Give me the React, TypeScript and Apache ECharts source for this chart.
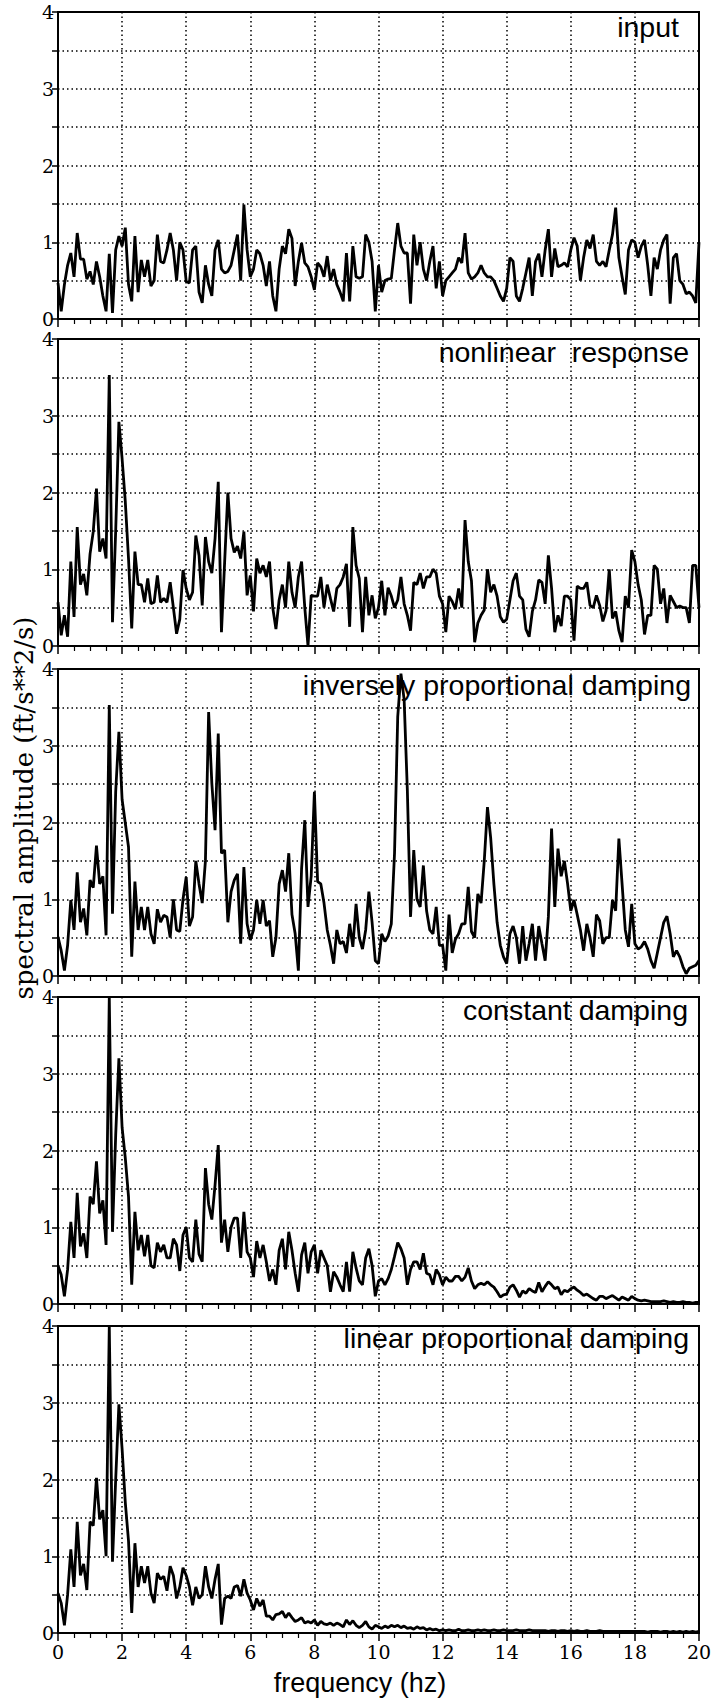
import React, { useEffect, useRef } from "react";
import * as echarts from "echarts";

// frequency sampling step (Hz) and x-axis range
const FREQ_STEP = 0.1;
const X_MIN = 0;
const X_MAX = 20;
const Y_MAX = 4;

const PANEL_LABELS = [
  "input",
  "nonlinear  response",
  "inversely proportional damping",
  "constant damping",
  "linear proportional damping",
];

const X_TITLE = "frequency (hz)";
const Y_TITLE = "spectral amplitude (ft/s**2/s)";

// spectral amplitudes, 0.0 .. 20.0 Hz every 0.1 Hz
const inputAmp = [
  0.47, 0.1, 0.45, 0.7, 0.86, 0.55, 1.12, 0.78, 0.78, 0.52,
  0.62, 0.45, 0.75, 0.55, 0.3, 0.1, 0.85, 0.08, 0.9, 1.08,
  0.95, 1.19, 0.45, 0.23, 1.08, 0.35, 0.77, 0.55, 0.77, 0.43,
  0.5, 1.1, 0.75, 0.73, 0.9, 1.12, 0.9, 0.5, 1.0, 0.9,
  0.49, 0.47, 0.9, 0.95, 0.35, 0.21, 0.7, 0.45, 0.3, 0.9,
  1.03, 0.65, 0.6, 0.62, 0.7, 0.9, 1.1, 0.5, 1.49, 0.9,
  0.55, 0.65, 0.9, 0.85, 0.7, 0.43, 0.75, 0.3, 0.1, 0.65,
  0.95, 0.85, 1.17, 1.05, 0.43, 0.75, 0.99, 0.73, 0.68, 0.55,
  0.38, 0.73, 0.68, 0.55, 0.82, 0.5, 0.65, 0.45, 0.35, 0.23,
  0.86, 0.23, 0.95, 0.55, 0.53, 0.55, 1.1, 1.0, 0.75, 0.1,
  0.7,
  0.35, 0.5, 0.52, 0.53, 0.9, 1.25, 0.95, 0.86, 0.86, 0.2,
  1.1, 0.7, 1.0, 0.65, 0.5, 0.75, 0.95, 0.4, 0.75, 0.3,
  0.5, 0.55, 0.6, 0.65, 0.8, 0.73, 1.12, 0.6, 0.52, 0.55,
  0.6, 0.7, 0.6, 0.55, 0.55, 0.5, 0.4, 0.3, 0.23, 0.4,
  0.8, 0.75, 0.3, 0.23, 0.4, 0.6, 0.8, 0.3, 0.75, 0.85,
  0.55, 0.9, 1.17, 0.55, 0.92, 0.68, 0.7, 0.73, 0.68, 0.9,
  1.06, 0.95, 0.5, 0.8, 1.03, 0.92, 1.1, 0.75, 0.7, 0.75,
  0.68, 0.9, 1.1, 1.45, 0.8, 0.55, 0.32, 0.9, 1.03, 1.0,
  0.8, 0.95, 1.03, 0.7, 0.3, 0.8, 0.65, 0.9, 1.03, 1.1,
  0.2, 0.8, 0.85, 0.5, 0.45, 0.33, 0.35, 0.3, 0.21, 1.0,
];

const nonlinearAmp = [
  0.57, 0.14, 0.4, 0.12, 1.1, 0.38, 1.55, 0.8, 0.94, 0.66,
  1.2, 1.49, 2.05, 1.23, 1.4, 1.14, 3.53, 0.31, 1.5, 2.92,
  2.44, 1.88, 1.14, 0.23, 1.23, 0.8, 0.8, 0.57, 0.88, 0.55,
  0.57, 0.92, 0.57, 0.62, 0.57, 0.83, 0.5, 0.16, 0.35, 0.99,
  0.75, 0.6, 0.7, 1.44, 1.18, 0.53, 1.42, 1.1, 0.95, 1.4,
  2.14, 0.18, 1.1, 2.0, 1.4, 1.22, 1.3, 1.14, 1.49, 0.66,
  0.92, 0.45, 1.14, 0.95, 1.05, 0.9, 1.1, 0.5, 0.22, 0.6,
  0.8, 0.5, 1.1, 0.7, 0.5, 0.9, 1.1, 0.5, 0.0, 0.66,
  0.65, 0.65, 0.9, 0.5, 0.8, 0.62, 0.45, 0.75, 0.8, 0.9,
  1.07, 0.25, 1.55, 1.05, 0.88, 0.18, 0.9, 0.4, 0.66, 0.36,
  0.5,
  0.85, 0.4, 0.76, 0.65, 0.5, 0.6, 0.9, 0.55, 0.4, 0.2,
  0.83, 0.8, 0.95, 0.75, 0.9, 0.9, 1.0, 0.95, 0.65, 0.55,
  0.18, 0.65, 0.58, 0.48, 0.75, 0.5, 1.64, 1.1, 0.85, 0.05,
  0.3, 0.4, 0.47, 1.0, 0.7, 0.8, 0.65, 0.38, 0.31, 0.35,
  0.6, 0.85, 0.95, 0.65, 0.6, 0.22, 0.12, 0.45, 0.6, 0.86,
  0.83, 0.55, 1.18, 0.75, 0.18, 0.4, 0.26, 0.65, 0.65, 0.6,
  0.07, 0.78, 0.75, 0.75, 0.83, 0.53, 0.5, 0.66, 0.53, 0.32,
  0.46, 1.0, 0.36, 0.45, 0.2, 0.05, 0.65, 0.5, 1.25, 1.1,
  0.8, 0.6, 0.15, 0.4, 0.4, 1.05, 1.0, 0.55, 0.75, 0.3,
  0.66, 0.58, 0.5, 0.52, 0.5, 0.5, 0.3, 1.05, 1.05, 0.5,
];

const inverseAmp = [
  0.51, 0.33, 0.07, 0.4, 0.99, 0.6, 1.35, 0.7, 0.88, 0.53,
  1.25, 1.15, 1.7, 1.2, 1.3, 0.53, 3.53, 0.81, 2.4, 3.18,
  2.3, 1.99, 1.68, 0.25, 1.23, 0.6, 0.9, 0.6, 0.9, 0.55,
  0.42, 0.87, 0.7, 0.79, 0.77, 0.5, 1.0, 0.6, 0.58, 1.0,
  1.29, 0.65, 0.77, 1.5, 1.2, 0.95, 1.5, 3.44, 2.51, 1.9,
  3.16, 1.6, 1.64, 0.7, 1.1, 1.25, 1.33, 0.42, 1.42, 0.68,
  0.47, 0.6, 0.99, 0.68, 0.99, 0.65, 0.72, 0.25, 0.5, 1.2,
  1.38, 1.1, 1.6, 0.8, 0.55, 0.07, 1.4, 2.03, 0.9, 1.3,
  2.4, 1.23, 1.2, 0.95, 0.6, 0.4, 0.16, 0.6, 0.42, 0.45,
  0.3, 0.68, 0.38, 0.94, 0.5, 0.35, 0.6, 1.1, 0.7, 0.2,
  0.16,
  0.55, 0.45, 0.52, 0.68, 1.6, 3.38, 3.94, 3.6, 2.42, 0.77,
  1.64, 1.0, 0.9, 1.44, 0.85, 0.6, 0.55, 0.9, 0.4, 0.4,
  0.07, 0.8, 0.3, 0.48, 0.55, 0.68, 0.68, 1.16, 0.58, 0.5,
  1.07, 0.95, 1.5, 2.2, 1.8, 1.2, 0.7, 0.4, 0.25, 0.16,
  0.55, 0.65, 0.5, 0.16, 0.65, 0.2, 0.42, 0.68, 0.2, 0.65,
  0.42, 0.2, 0.77, 1.92, 0.9, 1.66, 1.3, 1.5, 1.2, 0.85,
  0.99, 0.8, 0.6, 0.33, 0.68, 0.5, 0.25, 0.8, 0.72, 0.42,
  0.5, 0.5, 0.99, 0.85, 1.79, 1.2, 0.6, 0.38, 0.94, 0.42,
  0.35, 0.38, 0.45, 0.35, 0.2, 0.1, 0.3, 0.5, 0.7, 0.78,
  0.55, 0.25, 0.33, 0.25, 0.12, 0.03, 0.1, 0.12, 0.14, 0.2,
];

const constantAmp = [
  0.5, 0.38, 0.1, 0.45, 1.07, 0.6, 1.45, 0.75, 0.92, 0.6,
  1.4, 1.3, 1.86, 1.18, 1.35, 0.77, 4.0, 0.94, 2.2, 3.2,
  2.3, 1.9, 1.4, 0.25, 1.2, 0.7, 0.9, 0.62, 0.9, 0.5,
  0.47, 0.8, 0.68, 0.77, 0.6, 0.6, 0.85, 0.77, 0.43, 0.9,
  1.0, 0.6, 0.55, 1.1, 0.65, 0.55, 1.77, 1.3, 1.1, 1.55,
  2.07, 0.8, 1.1, 0.68, 1.0, 1.12, 1.12, 0.6, 1.2, 0.68,
  0.6, 0.35, 0.82, 0.6, 0.77, 0.55, 0.3, 0.45, 0.25, 0.7,
  0.85, 0.45, 0.94, 0.7, 0.4, 0.16, 0.64, 0.8, 0.4, 0.68,
  0.77, 0.4, 0.7, 0.6, 0.5, 0.16, 0.42, 0.35, 0.25, 0.16,
  0.55, 0.16, 0.68, 0.47, 0.3, 0.25, 0.6, 0.72, 0.5, 0.1,
  0.3,
  0.33, 0.25, 0.33, 0.45, 0.62, 0.8, 0.72, 0.6, 0.25, 0.45,
  0.55, 0.55, 0.45, 0.66, 0.4, 0.38, 0.25, 0.45, 0.38, 0.25,
  0.35, 0.3, 0.3, 0.36, 0.36, 0.3, 0.35, 0.47, 0.3, 0.2,
  0.25, 0.27, 0.25, 0.29, 0.25, 0.22, 0.16, 0.09, 0.12, 0.13,
  0.22, 0.25, 0.18, 0.09, 0.17, 0.14, 0.2, 0.17, 0.15, 0.28,
  0.16, 0.23, 0.29, 0.25, 0.2, 0.22, 0.12, 0.18, 0.16, 0.2,
  0.22, 0.18, 0.15, 0.11, 0.13, 0.1, 0.07, 0.05, 0.1, 0.1,
  0.07, 0.09, 0.11, 0.08, 0.05, 0.09, 0.07, 0.05, 0.1, 0.07,
  0.05, 0.04, 0.05, 0.04, 0.03, 0.03, 0.03, 0.03, 0.04, 0.03,
  0.02, 0.03, 0.02, 0.02, 0.03, 0.02, 0.02, 0.01, 0.02, 0.02,
];

const linearAmp = [
  0.52, 0.39, 0.1, 0.5, 1.09, 0.6, 1.45, 0.75, 0.9, 0.56,
  1.45, 1.4, 2.02, 1.48, 1.6, 1.0, 4.0, 0.93, 2.0, 2.98,
  2.4, 1.7, 1.2, 0.26, 1.17, 0.6, 0.87, 0.65, 0.87, 0.52,
  0.39, 0.78, 0.7, 0.74, 0.55, 0.87, 0.75, 0.45, 0.6, 0.85,
  0.75, 0.6, 0.36, 0.6, 0.45, 0.5, 0.87, 0.6, 0.45, 0.7,
  0.9, 0.11, 0.45, 0.48, 0.45, 0.6, 0.62, 0.48, 0.7, 0.52,
  0.43, 0.3, 0.45, 0.35, 0.43, 0.22, 0.22, 0.17, 0.24, 0.25,
  0.28, 0.2, 0.26, 0.2, 0.15, 0.17, 0.2, 0.13, 0.15, 0.13,
  0.17, 0.1, 0.15, 0.12, 0.11, 0.13, 0.1, 0.13, 0.11, 0.08,
  0.17, 0.11, 0.16, 0.1, 0.07, 0.1, 0.15, 0.08, 0.05, 0.1,
  0.08,
  0.06, 0.09, 0.07, 0.1, 0.08, 0.1, 0.07, 0.09, 0.06, 0.07,
  0.05, 0.08, 0.06, 0.07, 0.04, 0.06, 0.04, 0.05, 0.03, 0.04,
  0.03, 0.04, 0.03, 0.03, 0.05, 0.03, 0.03, 0.04, 0.03, 0.03,
  0.04, 0.03, 0.04, 0.03, 0.03, 0.04, 0.03, 0.03, 0.04, 0.03,
  0.03, 0.03, 0.04, 0.03, 0.03, 0.03, 0.04, 0.03, 0.03, 0.03,
  0.03, 0.03, 0.02, 0.03, 0.03, 0.02, 0.03, 0.03, 0.02, 0.03,
  0.02, 0.03, 0.02, 0.02, 0.03, 0.02, 0.02, 0.02, 0.03, 0.02,
  0.02, 0.02, 0.02, 0.02, 0.02, 0.02, 0.02, 0.02, 0.02, 0.02,
  0.02, 0.02, 0.02, 0.01, 0.02, 0.02, 0.02, 0.01, 0.02, 0.02,
  0.01, 0.02, 0.01, 0.02, 0.01, 0.02, 0.01, 0.02, 0.01, 0.02,
];

const PANELS = [inputAmp, nonlinearAmp, inverseAmp, constantAmp, linearAmp];

// layout (pixels)
const W = 715;
const H = 1698;
const GRID_LEFT = 58;
const GRID_WIDTH = 641;
const GRID_HEIGHT = 307;
const GRID_TOPS = [12, 339, 669, 997, 1326];
const LABEL_RIGHT = [679, 689, 691, 688, 689];
const LABEL_BASE = [37, 362, 695, 1020, 1348];

export default function App() {
  const ref = useRef<HTMLDivElement>(null);

  useEffect(() => {
    if (!ref.current) return;
    const chart = echarts.init(ref.current, undefined, { renderer: "svg" });

    const serif = "'DejaVu Serif', 'Liberation Serif', serif";
    const sans = "'Liberation Sans', Arial, sans-serif";
    const dotted = { color: "#000", width: 1.5, type: [1.5, 3] as number[] };

    const grids = GRID_TOPS.map((top) => ({
      left: GRID_LEFT,
      width: GRID_WIDTH,
      top,
      height: GRID_HEIGHT,
      show: true,
      borderColor: "#000",
      borderWidth: 2,
      backgroundColor: "transparent",
    }));

    const xAxes = GRID_TOPS.map((_, i) => ({
      gridIndex: i,
      type: "value",
      min: X_MIN,
      max: X_MAX,
      interval: 2,
      axisLine: { show: true, onZero: false, lineStyle: { color: "#000", width: 2 } },
      axisTick: { show: true, inside: false, length: 8, lineStyle: { color: "#000", width: 1.5 } },
      minorTick: { show: true, splitNumber: 4, length: 5, lineStyle: { color: "#000", width: 1.2 } },
      splitLine: { show: true, lineStyle: dotted },
      minorSplitLine: { show: false },
      axisLabel: {
        show: i === GRID_TOPS.length - 1,
        fontFamily: serif,
        fontSize: 19,
        color: "#000",
        margin: 9,
      },
    }));

    const yAxes = GRID_TOPS.map((_, i) => ({
      gridIndex: i,
      type: "value",
      min: 0,
      max: Y_MAX,
      interval: 0.5,
      axisLine: { show: true, lineStyle: { color: "#000", width: 2 } },
      axisTick: { show: true, inside: false, length: 6, lineStyle: { color: "#000", width: 1.5 } },
      splitLine: { show: true, lineStyle: dotted },
      axisLabel: {
        fontFamily: serif,
        fontSize: 19,
        lineHeight: 15,
        color: "#000",
        margin: 4,
        formatter: (v: number) => (Math.abs(v - Math.round(v)) < 1e-6 ? String(Math.round(v)) : ""),
      },
    }));

    const series = PANELS.map((vals, i) => ({
      type: "line",
      xAxisIndex: i,
      yAxisIndex: i,
      showSymbol: false,
      symbol: "none",
      clip: true,
      lineStyle: { color: "#000", width: 2.8 },
      data: vals.map((v, k) => [k * FREQ_STEP, v]),
      z: 3,
    }));

    const graphics: any[] = PANEL_LABELS.map((t, i) => ({
      type: "text",
      x: LABEL_RIGHT[i],
      y: LABEL_BASE[i] - 10,
      z: 1,
      style: {
        text: t,
        fill: "#000",
        font: `28.5px ${sans}`,
        align: "right",
        verticalAlign: "middle",
      },
    }));
    graphics.push({
      type: "text",
      x: 360,
      y: 1683,
      style: {
        text: X_TITLE,
        fill: "#000",
        font: `27px ${sans}`,
        align: "center",
        verticalAlign: "middle",
      },
    });
    graphics.push({
      type: "text",
      x: 24,
      y: 808,
      rotation: Math.PI / 2,
      style: {
        text: Y_TITLE,
        fill: "#000",
        font: `26px ${serif}`,
        align: "center",
        verticalAlign: "middle",
      },
    });

    chart.setOption({
      animation: false,
      backgroundColor: "#fff",
      grid: grids,
      xAxis: xAxes,
      yAxis: yAxes,
      series,
      graphic: graphics,
    });

    return () => chart.dispose();
  }, []);

  return (
    <div
      ref={ref}
      style={{ position: "absolute", left: 0, top: 0, width: W, height: H }}
    />
  );
}
